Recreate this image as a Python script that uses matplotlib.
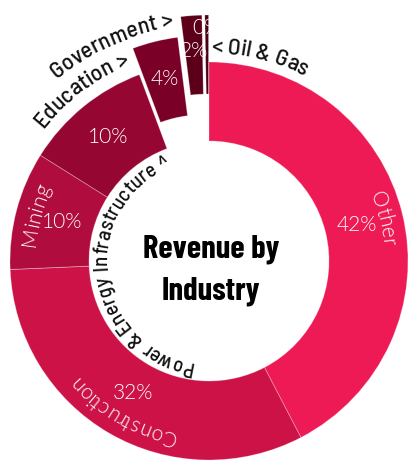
import numpy as np
import matplotlib
matplotlib.use("Agg")
import matplotlib.pyplot as plt
from matplotlib.font_manager import FontProperties
from matplotlib.textpath import TextToPath

# revenue share per industry, in percent, clockwise from 12 o'clock
categories = ["Other", "Construction", "Power & Energy", "Mining",
              "Infrastructure", "Education", "Government", "Oil & Gas"]
shares = [42.4, 32.0, 0.0, 9.6, 10.4, 3.7, 1.7, 0.3]
colors = ["#ee1a55", "#cd1247", "#c0103f", "#b00c3d",
          "#960633", "#7a0027", "#5c001a", "#480012"]

W, H, DPI = 415, 461, 100
CX, CY = 209, 200          # axes run in pixels, y up
R, R_IN = 199, 120

# pull-out distance (px) for the small slices
explode = [0, 0, 0, 0, 0, 27, 47, 47]

ring_font = ["Lato", "DejaVu Sans"]
side_font = ["Barlow Semi Condensed", "DejaVu Sans"]
title_font = ["Barlow Condensed", "DejaVu Sans"]

fig = plt.figure(figsize=(W / DPI, H / DPI), dpi=DPI)
ax = fig.add_axes([0, 0, 1, 1])
wedges, _ = ax.pie(shares, colors=colors, explode=explode, radius=R,
                   center=(CX, CY), startangle=90, counterclock=False,
                   wedgeprops=dict(width=R - R_IN, linewidth=0.6,
                                   edgecolor=(1, 1, 1, 0.3)))
ax.set_xlim(0, W)
ax.set_ylim(0, H)
ax.set_aspect("auto")
ax.axis("off")

_ttp = TextToPath()


def advance(s, prop):
    # width in px of s, trailing spaces included
    w, _, _ = _ttp.get_text_width_height_descent(s + "|", prop, ismath=False)
    w0, _, _ = _ttp.get_text_width_height_descent("|", prop, ismath=False)
    return (w - w0) * DPI / 72


def arc_text(s, r, ang, align, prop, color):
    # ang in degrees clockwise from 12 o'clock, glyph tops point outward
    edges = [advance(s[:i], prop) for i in range(len(s) + 1)]
    span = np.degrees(edges[-1] / r)
    if align == "center":
        start = ang - span / 2
    elif align == "right":
        start = ang - span
    else:
        start = ang
    for i, ch in enumerate(s):
        if ch == " ":
            continue
        a = start + np.degrees((edges[i] + edges[i + 1]) / 2 / r)
        th = np.radians(90 - a)
        ax.text(CX + r * np.cos(th), CY + r * np.sin(th), ch, rotation=-a,
                rotation_mode="anchor", ha="center", va="baseline",
                fontproperties=prop, color=color)


# clockwise angles of slice boundaries
bounds = 360 * np.concatenate([[0], np.cumsum(shares)]) / sum(shares)
start_of = dict(zip(categories, bounds[:-1]))
end_of = dict(zip(categories, bounds[1:]))

# percentages
pct_prop = FontProperties(family=ring_font, weight=300, size=15)
pct_push = {"Infrastructure": 8, "Education": 8, "Government": 12, "Oil & Gas": 34}
for w, name, v in zip(wedges, categories, shares):
    if v == 0:
        continue
    mid = np.radians((w.theta1 + w.theta2) / 2)
    rp = 152 + pct_push.get(name, 0)
    ax.text(w.center[0] + rp * np.cos(mid), w.center[1] + rp * np.sin(mid),
            f"{v:.0f}%", ha="center", va="center", color="white",
            fontproperties=pct_prop)

# names inside the ring
ring_prop = FontProperties(family=ring_font, weight=300, size=15)
for name in ["Other", "Construction", "Mining"]:
    arc_text(name, 174, (start_of[name] + end_of[name]) / 2, "center",
             ring_prop, "white")

# names around the ring
outer_prop = FontProperties(family=side_font, weight=500, size=17)
arc_text("Education >", 212, start_of["Education"] - 1.5, "right", outer_prop, "#111111")
arc_text("Government >", 237, start_of["Government"] - 1.5, "right", outer_prop, "#111111")
arc_text("< Oil & Gas", 208, end_of["Oil & Gas"] + 0.5, "left", outer_prop, "#111111")

# names inside the hole
inner_prop = FontProperties(family=side_font, weight=500, size=15)
arc_text("Infrastructure ^", 102, end_of["Infrastructure"] - 2, "right", inner_prop, "#111111")
arc_text("Power & Energy", 102, start_of["Mining"] - 6, "right", inner_prop, "#111111")

# centre title
title_prop = FontProperties(family=title_font, weight=700, size=23.5)
ax.text(CX + 2, 204, "Revenue by", ha="center", va="baseline",
        fontproperties=title_prop, color="black")
ax.text(CX + 2, 161, "Industry", ha="center", va="baseline",
        fontproperties=title_prop, color="black")

fig.savefig("out.png", dpi=DPI)
